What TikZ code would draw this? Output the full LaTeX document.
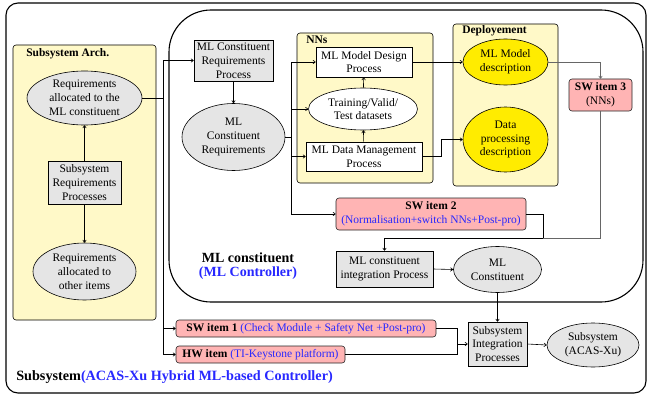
\documentclass[tikz,border=0pt]{standalone}
\usepackage{fontspec}
\setmainfont{Liberation Serif}
\usetikzlibrary{shapes.geometric,arrows.meta,calc}
\definecolor{grayfill}{RGB}{229,229,229}
\definecolor{paleyellow}{RGB}{255,249,200}
\definecolor{ellyellow}{RGB}{255,236,0}
\definecolor{pinkfill}{RGB}{255,180,180}
\definecolor{bluetext}{RGB}{40,40,255}
\begin{document}
\begin{tikzpicture}[x=1pt,y=-1pt,
  font=\fontsize{11.5}{13.8}\selectfont, line width=0.6pt,
  every node/.style={inner sep=0pt, align=center},
  graybox/.style={draw, fill=grayfill},
  whitebox/.style={draw, fill=white},
  grayell/.style={draw, ellipse, fill=grayfill},
  whiteell/.style={draw, ellipse, fill=white},
  yellell/.style={draw, ellipse, fill=ellyellow},
  pinkbox/.style={draw=black!85, fill=pinkfill, rounded corners=3pt},
  bgbox/.style={draw, fill=paleyellow, rounded corners=3pt},
  frame/.style={draw, line width=1.1pt},
  arr/.style={-{To[length=3pt,width=4pt]}},
  bigbold/.style={font=\fontsize{14}{14.5}\selectfont\bfseries},
  sz/.style 2 args={minimum width=#1, minimum height=#2}
]
\useasboundingbox (0,0) rectangle (648,396);
% frames
\draw[frame, rounded corners=12pt] (6,3) rectangle (646,393);
\draw[frame, rounded corners=42pt] (169,10) rectangle (643,302);
% background boxes
\draw[bgbox] (13,45) rectangle (156,320);
\node[anchor=west, font=\fontsize{11.5}{13.8}\selectfont\bfseries] (tarch) at (26,54) {Subsystem Arch.};
\draw[bgbox] (297,33) rectangle (433,183);
\node[anchor=west, font=\fontsize{11.5}{13.8}\selectfont\bfseries] (tnns) at (306,40) {NNs};
\draw[bgbox] (453,24) rectangle (558,186);
\node[anchor=west, font=\fontsize{11.5}{13.8}\selectfont\bfseries] (tdep) at (462,31) {Deployement};

% left column
\node[grayell, sz={115pt}{54pt}] (e1) at (84.5,98) {Requirements\\allocated to the\\ML constituent};
\node[graybox, sz={73pt}{43pt}] (b1) at (84.5,182.5) {Subsystem\\Requirements\\Processes};
\node[grayell, sz={103pt}{57pt}] (e3) at (84.5,271.5) {Requirements\\allocated to\\other items};

% ML constituent
\node[graybox, sz={79pt}{41pt}] (b2) at (233.5,60.5) {ML Constituent\\Requirements\\Process};
\node[grayell, sz={103pt}{67pt}] (e2) at (233.5,137) {ML\\Constituent\\Requirements};

\node[whitebox, sz={96pt}{30pt}] (b3) at (364,62) {ML Model Design\\Process};
\node[whiteell, sz={109pt}{42pt}] (e4) at (363,109) {Training/Valid/\\Test datasets};
\node[whitebox, sz={116pt}{29pt}] (b4) at (364,156.5) {ML Data Management\\Process};

\node[yellell, sz={85pt}{46pt}] (e5) at (505.5,62) {ML Model\\description};
\node[yellell, sz={85pt}{65pt}] (e6) at (505.5,139.5) {Data\\processing\\description};

\node[pinkbox, sz={63pt}{32pt}] (b5) at (600.5,95) {\textbf{SW item 3}\\(NNs)};
\node[pinkbox, sz={190pt}{32pt}] (b6) at (431,214) {\textbf{SW item 2}\\\textcolor{bluetext}{(Normalisation+switch NNs+Post-pro)}};

\node[graybox, sz={97pt}{36pt}] (b7) at (384.5,269) {ML constituent\\integration Process};
\node[grayell, sz={88pt}{46pt}] (e7) at (497.5,269.5) {ML\\Constituent};

\node[bigbold] (tml) at (248,266) {ML constituent\\\textcolor{bluetext}{(ML Controller)}};

% subsystem level
\node[pinkbox, sz={260pt}{17pt}] (b9) at (306,328.5) {\textbf{SW item 1} \textcolor{bluetext}{(Check Module + Safety Net +Post-pro)}};
\node[pinkbox, sz={169pt}{17pt}] (b10) at (260.5,354.5) {\textbf{HW item} \textcolor{bluetext}{(TI-Keystone platform)}};
\node[graybox, sz={59pt}{44pt}] (b8) at (497.5,344) {Subsystem\\Integration\\Processes};
\node[grayell, sz={92pt}{44pt}] (e8) at (593,345) {Subsystem\\(ACAS-Xu)};

\node[bigbold, anchor=west, font=\fontsize{14.2}{14.5}\selectfont\bfseries] (tsub) at (16,377) {Subsystem\textcolor{bluetext}{(ACAS-Xu Hybrid ML-based Controller)}};

% connectors
\draw[arr] (b1) -- (e1);
\draw[arr] (b1) -- (e3);
\coordinate (j1) at (163,98);
\draw (e1.east) -- (j1);
\draw[arr] (j1) |- (b2.west);
\draw[arr] (j1) |- (b9.west);
\draw[arr] (j1) |- (b10.west);

\draw[arr] (b2) -- (e2);
\coordinate (j2) at (291,137);
\draw (e2.east) -- (j2);
\draw[arr] (j2) |- (b3.west);
\draw[arr] (j2) |- (e4.west);
\draw[arr] (j2) |- (b4.west);
\draw[arr] (j2) |- (b6.west);

\draw[arr] (b4) -- (e4);
\draw[arr] (e4) -- (b3);
\draw[arr] (b3.east) -- (e5.west);
\coordinate (j6) at (441,156.5);
\draw[arr] (b4.east) -- (j6) |- (e6.west);

\draw[arr, black!60] (e5.east) -| (b5.north);
\coordinate (j3) at (600.5,238);
\coordinate (j4) at (543,238);
\draw[black!60] (b5.south) -- (j3) -- (j4);
\draw[arr] (j4) -| (b7.north);
\draw (b6.east) -| (j4);

\draw[arr] (b7.east) -- (e7.west);
\draw[arr] (e7.south) -- (b8.north);
\coordinate (j5) at (457,344);
\draw[arr] (b9.east) -| (j5) -- (b8.west);
\draw (b10.east) -| (j5);
\draw[arr] (b8.east) -- (e8.west);
\end{tikzpicture}
\end{document}
